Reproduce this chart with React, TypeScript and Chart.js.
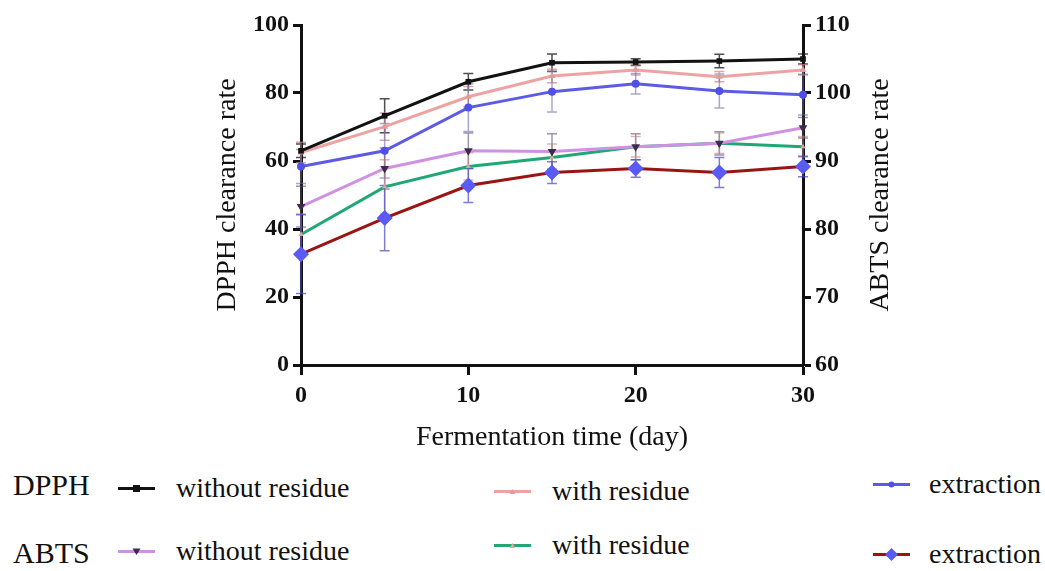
import React, { useEffect, useRef } from "react";
import { Chart, registerables } from "chart.js";

Chart.register(...registerables);

const FONT = "'Liberation Serif', 'Times New Roman', serif";

const days = [0, 5, 10, 15, 20, 25, 30];
const xTicks = [0, 10, 20, 30];

// DPPH (left axis)
const dpphWithout = [63.0, 73.3, 83.3, 88.9, 89.1, 89.4, 90.0];
const dpphWithoutErr = [2, 5, 2.4, 2.6, 1, 2, 1.5];
const dpphWith = [62.5, 70.1, 78.9, 85.0, 86.8, 84.8, 86.8];
const dpphWithErr = [3, 4, 3, 2, 1.5, 1.5, 1.5];
const dpphExtraction = [58.4, 63.0, 75.7, 80.4, 82.7, 80.6, 79.5];
const dpphExtractionErr = [5, 8, 7, 6, 3, 5, 6];

// ABTS (right axis)
const abtsWithout = [83.3, 88.9, 91.5, 91.4, 92.1, 92.6, 94.9];
const abtsWithoutErr = [3, 3, 2.6, 2.6, 1.9, 1.7, 1.5];
const abtsWith = [79.2, 86.2, 89.2, 90.5, 92.1, 92.6, 92.1];
const abtsWithErr = [3, 4, 2, 2, 1.5, 1.5, 1.5];
const abtsExtraction = [76.3, 81.6, 86.4, 88.3, 88.9, 88.3, 89.2];
const abtsExtractionErr = [5.8, 4.8, 2.5, 1.6, 1.3, 2.2, 1.5];

const legendGroups = ["DPPH", "ABTS"];
const legendItems = ["without residue", "with residue", "extraction"];
const rightTitle = "ABTS clearance rate";

type S = {
  label: string;
  values: number[];
  err: number[];
  axis: string;
  line: string;
  point: string;
  style: string;
  radius: number;
  rotation: number;
  errColor: string;
};

const series: S[] = [
  { label: "DPPH without residue", values: dpphWithout, err: dpphWithoutErr, axis: "y", line: "#121212", point: "#121212", style: "rect", radius: 4, rotation: 0, errColor: "rgba(20,20,20,0.75)" },
  { label: "DPPH with residue", values: dpphWith, err: dpphWithErr, axis: "y", line: "#eea3a3", point: "#e59a9a", style: "triangle", radius: 4, rotation: 0, errColor: "rgba(200,130,140,0.7)" },
  { label: "DPPH extraction", values: dpphExtraction, err: dpphExtractionErr, axis: "y", line: "#5b5be6", point: "#5050e8", style: "circle", radius: 4, rotation: 0, errColor: "rgba(110,110,170,0.6)" },
  { label: "ABTS without residue", values: abtsWithout, err: abtsWithoutErr, axis: "y1", line: "#cf92e2", point: "#3c2c46", style: "triangle", radius: 5, rotation: 180, errColor: "rgba(90,80,110,0.6)" },
  { label: "ABTS with residue", values: abtsWith, err: abtsWithErr, axis: "y1", line: "#1fa774", point: "#e3a1a1", style: "triangle", radius: 3, rotation: 0, errColor: "rgba(190,130,140,0.6)" },
  { label: "ABTS extraction", values: abtsExtraction, err: abtsExtractionErr, axis: "y1", line: "#9b1414", point: "#5a5af5", style: "rectRot", radius: 8, rotation: 0, errColor: "rgba(70,70,200,0.7)" },
];

const errorBars = {
  id: "errorBars",
  beforeDatasetsDraw(chart: any) {
    const ctx = chart.ctx;
    const xs = chart.scales.x;
    ctx.save();
    series.forEach((s) => {
      const ys = chart.scales[s.axis];
      ctx.strokeStyle = s.errColor;
      ctx.lineWidth = 1.5;
      s.values.forEach((v, i) => {
        const px = xs.getPixelForValue(days[i]);
        const top = ys.getPixelForValue(v + s.err[i]);
        const bot = ys.getPixelForValue(v - s.err[i]);
        ctx.beginPath();
        ctx.moveTo(px, top);
        ctx.lineTo(px, bot);
        ctx.moveTo(px - 5, top);
        ctx.lineTo(px + 5, top);
        ctx.moveTo(px - 5, bot);
        ctx.lineTo(px + 5, bot);
        ctx.stroke();
      });
    });
    ctx.restore();
  },
};

// right axis title reads bottom-to-top, as in the reference
const rightTitlePlugin = {
  id: "rightTitle",
  afterDraw(chart: any) {
    const s = chart.scales.y1;
    const ctx = chart.ctx;
    const size = 28;
    const x = s.right - 4 - (size * 1.2) / 2;
    const y = (s.top + s.bottom) / 2;
    ctx.save();
    ctx.translate(x, y);
    ctx.rotate(-Math.PI / 2);
    ctx.font = `${size}px ${FONT}`;
    ctx.fillStyle = "#111";
    ctx.textAlign = "center";
    ctx.textBaseline = "middle";
    ctx.fillText(rightTitle, 0, 0);
    ctx.restore();
  },
};

function axisCommon() {
  return {
    grid: { display: true, drawOnChartArea: false, drawTicks: true, tickLength: 8, tickWidth: 3, tickColor: "#111" },
    border: { display: true, width: 3, color: "#111" },
  };
}

function Marker({ idx }: { idx: number }) {
  const s = series[idx];
  let shape: any = null;
  if (s.style === "rect") shape = <rect x={15} y={4} width={7} height={7} fill={s.point} />;
  else if (s.style === "circle") shape = <circle cx={18.5} cy={7.5} r={3} fill={s.point} />;
  else if (s.style === "rectRot") shape = <polygon points="18.5,1 25,7.5 18.5,14 12,7.5" fill={s.point} />;
  else if (s.rotation === 180) shape = <polygon points="14.5,4.5 22.5,4.5 18.5,11" fill={s.point} />;
  else shape = <polygon points="15.5,10 21.5,10 18.5,5" fill={s.point} />;
  return (
    <svg width={37} height={15} style={{ display: "block" }}>
      <line x1={0} y1={7.5} x2={37} y2={7.5} stroke={s.line} strokeWidth={3} />
      {shape}
    </svg>
  );
}

export default function App() {
  const ref = useRef<HTMLCanvasElement>(null);
  useEffect(() => {
    if (!ref.current) return;
    const chart = new Chart(ref.current, {
      type: "line",
      data: {
        datasets: series.map((s) => ({
          label: s.label,
          data: s.values.map((v, i) => ({ x: days[i], y: v })),
          yAxisID: s.axis,
          borderColor: s.line,
          borderWidth: 3,
          backgroundColor: s.point,
          pointBackgroundColor: s.point,
          pointBorderColor: s.point,
          pointBorderWidth: 0,
          pointStyle: s.style as any,
          pointRotation: s.rotation,
          pointRadius: s.radius,
          tension: 0,
          clip: false as any,
        })),
      },
      options: {
        responsive: false,
        animation: false,
        devicePixelRatio: 1,
        layout: { padding: { left: 207, right: 144, top: 25, bottom: 0 } },
        plugins: { legend: { display: false }, tooltip: { enabled: false } },
        scales: {
          x: {
            type: "linear",
            position: "bottom",
            min: 0,
            max: 30,
            afterBuildTicks: (s: any) => {
              s.ticks = xTicks.map((v) => ({ value: v }));
            },
            ticks: { font: { family: FONT, size: 24, weight: "bold" }, color: "#111", padding: 6 },
            grid: { display: true, drawOnChartArea: false, drawTicks: true, tickLength: 10, tickWidth: 3, tickColor: "#111" },
            border: { display: true, width: 3, color: "#111" },
            title: { display: true, text: "Fermentation time (day)", font: { family: FONT, size: 28 }, color: "#111", padding: { top: 4, bottom: 4 } },
            afterFit: (s: any) => {
              s.height = 93;
            },
          },
          y: {
            position: "left",
            min: 0,
            max: 100,
            ticks: { stepSize: 20, font: { family: FONT, size: 24, weight: "bold" }, color: "#111", padding: 4 },
            ...axisCommon(),
            title: { display: true, text: "DPPH clearance rate", font: { family: FONT, size: 28 }, color: "#111", padding: { top: 4, bottom: 4 } },
            afterFit: (s: any) => {
              s.width = 94;
            },
          },
          y1: {
            position: "right",
            min: 60,
            max: 110,
            ticks: { stepSize: 10, font: { family: FONT, size: 24, weight: "bold" }, color: "#111", padding: 4 },
            ...axisCommon(),
            title: { display: false },
            afterFit: (s: any) => {
              s.width = 98;
            },
          },
        } as any,
      },
      plugins: [errorBars, rightTitlePlugin],
    });
    return () => chart.destroy();
  }, []);

  const colX = [118, 494, 873];
  const textX = [176, 552, 929];
  const rowY = [[488, 491, 484], [551, 545, 554]];
  const groupY = [485, 553];

  return (
    <div style={{ position: "absolute", left: 0, top: 0, width: 1045, height: 571, background: "#fff", overflow: "hidden" }}>
      <canvas ref={ref} width={1045} height={458} style={{ position: "absolute", left: 0, top: 0 }} />
      {legendGroups.map((g, gi) => (
        <React.Fragment key={g}>
          <div style={{ position: "absolute", left: 13, top: groupY[gi] - 18, fontFamily: FONT, fontSize: 30, lineHeight: "36px", color: "#111" }}>{g}</div>
          {legendItems.map((t, ti) => (
            <React.Fragment key={t}>
              <div style={{ position: "absolute", left: colX[ti], top: rowY[gi][ti] - 7.5 }}>
                <Marker idx={gi * 3 + ti} />
              </div>
              <div style={{ position: "absolute", left: textX[ti], top: rowY[gi][ti] - 17, fontFamily: FONT, fontSize: 28, lineHeight: "34px", color: "#111", whiteSpace: "nowrap" }}>{t}</div>
            </React.Fragment>
          ))}
        </React.Fragment>
      ))}
    </div>
  );
}
